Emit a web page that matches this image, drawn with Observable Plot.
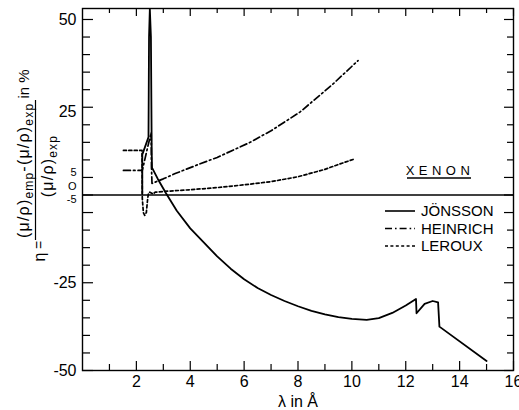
<!DOCTYPE html>
<html><head><meta charset="utf-8">
<script src="https://cdn.jsdelivr.net/npm/d3@7"></script>
<script src="https://cdn.jsdelivr.net/npm/@observablehq/plot@0.6"></script>
<style>html,body{margin:0;padding:0;background:#fff}svg{display:block}</style>
</head><body><div id="chart"></div>
<script>
// ---- data (λ in Å, η in %) ----
const jonssonX = [2.22, 2.22, 2.45, 2.47, 2.5, 2.54, 2.57, 2.58, 2.8, 3.1, 3.5, 4.0, 4.5, 5.0, 5.5, 6.0, 6.5, 7.0, 7.5, 8.0, 8.5, 9.0, 9.5, 10.0, 10.55, 11.0, 11.5, 12.0, 12.38, 12.4, 12.7, 13.0, 13.2, 13.25, 15.0];
const jonssonY = [0.5, 11.5, 16.5, 45, 53, 45, 12, 7.8, 4.5, 0.5, -4.5, -9.5, -13.5, -17.5, -21, -24, -26.5, -28.5, -30.2, -31.7, -33, -34, -34.8, -35.3, -35.6, -35.1, -33.6, -31.5, -29.6, -33.7, -31, -30.2, -30.6, -37.5, -47.3];

const heinrichX = [1.52, 2.2, 2.22, 2.4, 2.55, 2.56, 2.58, 3.0, 3.44, 4.37, 5.0, 6.22, 7.0, 8.07, 9.31, 10.23];
const heinrichY = [7.0, 7.0, 7.0, 13, 17.8, 8, 3.3, 4.6, 6.1, 8.9, 10.7, 15.0, 18.3, 23.6, 31.7, 38.3];

const lerouxX = [1.52, 2.2, 2.21, 2.22, 2.26, 2.31, 2.37, 2.42, 2.45, 2.5, 2.62, 2.7, 3.0, 4.0, 5.0, 6.0, 7.0, 8.0, 9.0, 9.5, 10.11];
const lerouxY = [12.7, 12.7, 12.7, -1, -5, -5.8, -5, -1, 0.5, 0.8, 0.3, 0.8, 1.0, 1.5, 2.1, 2.9, 3.8, 5.2, 7.3, 8.7, 10.3];

const seriesNames = ["JÖNSSON", "HEINRICH", "LEROUX"];
const elementName = "XENON";

const xTickLabels = [2, 4, 6, 8, 10, 12, 14, 16];
const xMinorTicks = [1, 3, 5, 7, 9, 11, 13, 15];
const yLabelValues = [50, 25, 5, 0, -5, -25, -50];
const yTickLabels = ["50", "25", "5", "O", "-5", "-25", "-50"];
const yTicks = d3.range(-50, 51, 5);

// ---- layout ----
const W = 519, H = 410, mL = 82, mR = 6, mT = 8, mB = 40;
const innerW = W - mL - mR, innerH = H - mT - mB;
const FONT = "Liberation Sans, Arial, sans-serif";

const toRows = (xs, ys) => xs.map((x, i) => ({x, y: ys[i]}));
const jonsson = toRows(jonssonX, jonssonY);
const heinrich = toRows(heinrichX, heinrichY);
const leroux = toRows(lerouxX, lerouxY);

const dashes = ["none", "7,3,1.6,3", "3,2.4"];
// the original squeezes the 5 / 0 / -5 labels together next to the zero line
const labelNudge = [0, 5, -5, -9, -13, 0, 0];
const labelSize = [16, 16, 11, 11, 11, 16, 16];
const isMajorY = v => yLabelValues.includes(v);

const plot = Plot.plot({
  width: W, height: H,
  marginLeft: mL, marginRight: mR, marginTop: mT, marginBottom: mB,
  x: {domain: [0, 16], axis: null},
  y: {domain: [-50, 53.13], axis: null},
  style: {fontFamily: FONT, fontSize: "16px", color: "black", background: "white", overflow: "visible"},
  marks: [
    Plot.ruleY([0], {stroke: "black", strokeWidth: 1.3}),
    Plot.line(leroux, {x: "x", y: "y", stroke: "black", strokeWidth: 1.7, strokeDasharray: dashes[2], clip: true}),
    Plot.line(heinrich, {x: "x", y: "y", stroke: "black", strokeWidth: 1.7, strokeDasharray: dashes[1], clip: true}),
    Plot.line(jonsson, {x: "x", y: "y", stroke: "black", strokeWidth: 1.8, clip: true}),
    Plot.frame({stroke: "black", strokeWidth: 1.4}),
    // inward ticks
    Plot.ruleX(xTickLabels, {x: d => d, insetTop: innerH - 9, stroke: "black", strokeWidth: 1.2}),
    Plot.ruleX(xMinorTicks, {x: d => d, insetTop: innerH - 6, stroke: "black", strokeWidth: 1.2}),
    Plot.ruleX(xTickLabels, {x: d => d, insetBottom: innerH - 8, stroke: "black", strokeWidth: 1.2}),
    Plot.ruleX(xMinorTicks, {x: d => d, insetBottom: innerH - 5, stroke: "black", strokeWidth: 1.2}),
    Plot.ruleY(yTicks.filter(isMajorY), {y: d => d, insetRight: innerW - 11, stroke: "black", strokeWidth: 1.2}),
    Plot.ruleY(yTicks.filter(v => !isMajorY(v)), {y: d => d, insetRight: innerW - 8, stroke: "black", strokeWidth: 1.2}),
    Plot.ruleY(yTicks.filter(isMajorY), {y: d => d, insetLeft: innerW - 9, stroke: "black", strokeWidth: 1.2}),
    Plot.ruleY(yTicks.filter(v => !isMajorY(v)), {y: d => d, insetLeft: innerW - 6, stroke: "black", strokeWidth: 1.2}),
    // x tick labels
    Plot.text(xTickLabels, {x: d => d, text: d => String(d), frameAnchor: "bottom", lineAnchor: "top", dy: 5, fontSize: 16}),
    // y tick labels
    ...yLabelValues.map((v, i) => Plot.text([v], {y: d => d, text: () => yTickLabels[i], frameAnchor: "left", textAnchor: "end", dx: -6, dy: labelNudge[i], fontSize: labelSize[i]})),
    // x axis label
    Plot.text(["λ in Å"], {text: d => d, frameAnchor: "bottom", lineAnchor: "bottom", dy: 36, fontSize: 16})
  ]
});
document.getElementById("chart").appendChild(plot);

const svg = d3.select(plot);

// ---- XENON and legend ----
const ann = svg.append("g").attr("font-family", FONT).attr("fill", "black").attr("text-anchor", "start");
ann.append("text").attr("x", 440).attr("y", 175).attr("text-anchor", "middle")
  .attr("font-size", 13).attr("letter-spacing", 4.5).text(elementName);
ann.append("line").attr("x1", 407).attr("x2", 471).attr("y1", 178).attr("y2", 178)
  .attr("stroke", "black").attr("stroke-width", 1.3);
seriesNames.forEach((name, i) => {
  const yb = 216 + i * 17.5;
  ann.append("line").attr("x1", 385).attr("x2", 415).attr("y1", yb - 5).attr("y2", yb - 5)
    .attr("stroke", "black").attr("stroke-width", 1.6)
    .attr("stroke-dasharray", dashes[i] === "none" ? null : dashes[i]);
  ann.append("text").attr("x", 421).attr("y", yb).attr("text-anchor", "start").attr("font-size", 15).text(name);
});

// ---- rotated y label: local (u,v) -> screen (v,-u) ----
const yl = svg.append("g").attr("transform", "rotate(-90)").attr("font-family", FONT).attr("fill", "black");
const num = yl.append("text").attr("x", -238).attr("y", 29).attr("text-anchor", "start").attr("font-size", 16).attr("letter-spacing", 1.2);
num.append("tspan").text("(μ/ρ)");
num.append("tspan").attr("dy", 4).attr("font-size", 12).text("emp");
num.append("tspan").attr("dy", -4).text("-(μ/ρ)");
num.append("tspan").attr("dy", 4).attr("font-size", 12).text("exp");
yl.append("text").attr("x", -84).attr("y", 29).attr("text-anchor", "middle").attr("font-size", 15).text("in %");
yl.append("line").attr("x1", -240).attr("x2", -100).attr("y1", 35.5).attr("y2", 35.5).attr("stroke", "black").attr("stroke-width", 1.2);
const den = yl.append("text").attr("x", -166).attr("y", 53).attr("text-anchor", "middle").attr("font-size", 16).attr("letter-spacing", 1.2);
den.append("tspan").text("(μ/ρ)");
den.append("tspan").attr("dy", 4).attr("font-size", 12).text("exp");
yl.append("text").attr("x", -257).attr("y", 45).attr("text-anchor", "middle").attr("font-size", 16).text("η");
yl.append("text").attr("x", -245).attr("y", 44).attr("text-anchor", "middle").attr("font-size", 14).text("=");
</script>
</body></html>
